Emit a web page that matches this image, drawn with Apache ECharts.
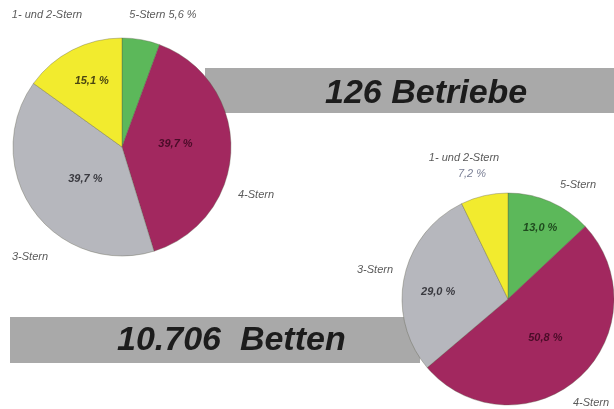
<!DOCTYPE html>
<html>
<head>
<meta charset="utf-8">
<script src="https://cdn.jsdelivr.net/npm/echarts@6/dist/echarts.min.js"></script>
<style>
  html, body { margin: 0; padding: 0; background: #fff; }
  #container { width: 614px; height: 409px; }
</style>
</head>
<body>
<div id="container"></div>
<script>
// Kategorien (im Uhrzeigersinn ab 12 Uhr)
const starCats = ['5-Stern', '4-Stern', '3-Stern', '1- und 2-Stern'];
const betriebeShare = [5.6, 39.7, 39.7, 15.1];   // Anteil Betriebe in %
const bettenShare = [13.0, 50.8, 29.0, 7.2];     // Anteil Betten in %
const totalTexts = ['126 Betriebe', '10.706  Betten'];

// Anteil innen zeigen? (kleine Segmente haben den Wert aussen)
const betriebeInside = [false, true, true, true];
const bettenInside = [true, true, true, false];

// Verschiebung der Innen-Beschriftungen
const betriebeShift = [[0, 0], [-4, -5], [10, -2], [-4, -15]];
const bettenShift = [[10, -20], [0, -3], [-15, 4], [0, 0]];

const sliceColors = ['#5cb85a', '#a2285f', '#b6b7bd', '#f2eb2e'];
const valueColors = ['#1f4a1e', '#4a0c28', '#3a3a40', '#4a4512'];

function pct(v) {
  return v.toFixed(1).replace('.', ',') + ' %';
}

function pieData(values, inside) {
  return values.map((v, i) => ({
    name: starCats[i],
    value: v,
    itemStyle: { color: sliceColors[i] },
    label: {
      show: inside[i],
      position: 'inside',
      color: valueColors[i],
      fontStyle: 'italic',
      fontWeight: 'bold',
      fontSize: 11,
      fontFamily: 'Liberation Sans',
      formatter: () => pct(v)
    }
  }));
}

const nameStyle = {
  fill: '#5a5a5a',
  font: 'italic 11px "Liberation Sans"',
  textAlign: 'center',
  textVerticalAlign: 'middle'
};

function nameText(x, y, txt) {
  return { type: 'text', x: x, y: y, z: 10, style: Object.assign({ text: txt }, nameStyle) };
}

let option = {
  backgroundColor: '#fff',
  animation: false,
  graphic: [
    // graue Balken
    { type: 'rect', z: -1, shape: { x: 205, y: 68, width: 409, height: 45 }, style: { fill: '#a9a9a9' } },
    { type: 'rect', z: -1, shape: { x: 10, y: 317, width: 410, height: 46 }, style: { fill: '#a9a9a9' } },
    {
      type: 'text', x: 325, y: 94, z: 10,
      style: { text: totalTexts[0], fill: '#1c1c1c', font: 'italic bold 34px "Liberation Sans"', textVerticalAlign: 'middle' }
    },
    {
      type: 'text', x: 117, y: 341, z: 10,
      style: { text: totalTexts[1], fill: '#1c1c1c', font: 'italic bold 34px "Liberation Sans"', textVerticalAlign: 'middle' }
    },
    // Beschriftungen Betriebe
    nameText(47, 15, starCats[3]),
    nameText(163, 15, starCats[0] + ' ' + pct(betriebeShare[0])),
    nameText(256, 195, starCats[1]),
    nameText(30, 257, starCats[2]),
    // Beschriftungen Betten
    nameText(464, 158, starCats[3]),
    { type: 'text', x: 472, y: 174, z: 10, style: Object.assign({}, nameStyle, { text: pct(bettenShare[3]), fill: '#7a7f95' }) },
    nameText(578, 185, starCats[0]),
    nameText(375, 270, starCats[2]),
    nameText(591, 403, starCats[1])
  ],
  series: [
    {
      name: 'Betriebe',
      type: 'pie',
      center: [122, 147],
      radius: [0, 109],
      startAngle: 90,
      clockwise: true,
      labelLine: { show: false },
      labelLayout: p => ({ dx: betriebeShift[p.dataIndex][0], dy: betriebeShift[p.dataIndex][1] }),
      itemStyle: { borderColor: 'rgba(90,90,70,0.45)', borderWidth: 0.8 },
      data: pieData(betriebeShare, betriebeInside)
    },
    {
      name: 'Betten',
      type: 'pie',
      center: [508, 299],
      radius: [0, 106],
      startAngle: 90,
      clockwise: true,
      labelLine: { show: false },
      labelLayout: p => ({ dx: bettenShift[p.dataIndex][0], dy: bettenShift[p.dataIndex][1] }),
      itemStyle: { borderColor: 'rgba(90,90,70,0.45)', borderWidth: 0.8 },
      data: pieData(bettenShare, bettenInside)
    }
  ]
};

let myChart = echarts.init(document.getElementById('container'));
myChart.setOption(option);
</script>
</body>
</html>
